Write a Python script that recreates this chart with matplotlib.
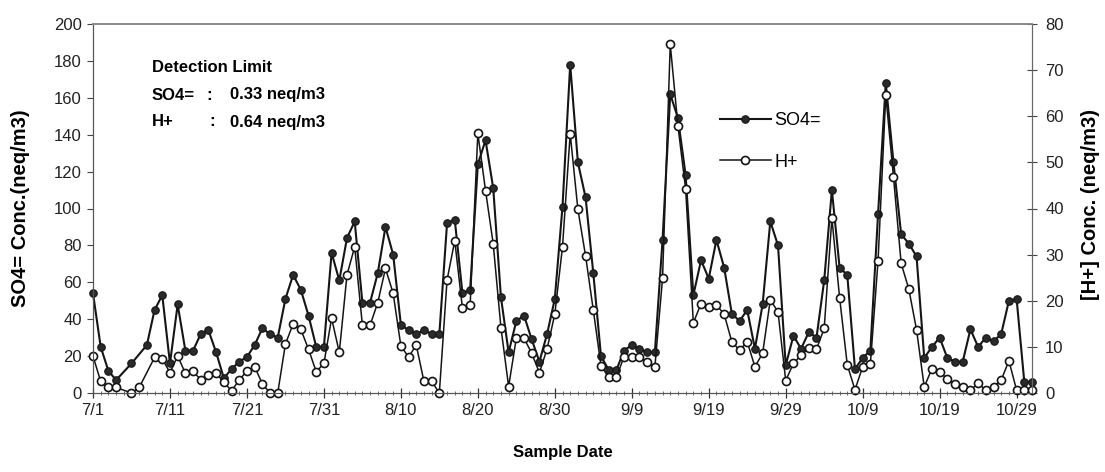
import matplotlib
matplotlib.use("Agg")
import matplotlib.pyplot as plt
from matplotlib.ticker import MultipleLocator

plt.rcParams['font.family'] = ['Liberation Sans', 'DejaVu Sans']

# ---- data (day offset from 7/1, value) ----
so4_day = [0, 1, 2, 3, 5, 7, 8, 9, 10, 11, 12, 13, 14, 15, 16, 17, 18, 19, 20,
           21, 22, 23, 24, 25, 26, 27, 28, 29, 30, 31, 32, 33, 34, 35, 36, 37, 38, 39, 40,
           41, 42, 43, 44, 45, 46, 47, 48, 49, 50, 51, 52, 53, 54, 55, 56, 57, 58, 59, 60,
           61, 62, 63, 64, 65, 66, 67, 68, 69, 70, 71, 72, 73, 74, 75, 76, 77, 78, 79, 80,
           81, 82, 83, 84, 85, 86, 87, 88, 89, 90, 91, 92, 93, 94, 95, 96, 97, 98, 99, 100,
           101, 102, 103, 104, 105, 106, 107, 108, 109, 110, 111, 112, 113, 114, 115, 116,
           117, 118, 119, 120, 121, 122]
so4_val = [54, 25, 12, 7, 16, 26, 45, 53, 16, 48, 23, 23, 32, 34, 22, 8, 13, 17, 19.5,
           26, 35, 32, 30, 51, 64, 56, 42, 25, 25, 76, 61, 84, 93, 49, 49, 65, 90, 75, 37,
           34, 32, 34, 32, 32, 92, 94, 54, 56, 124, 137, 111, 52, 22, 39, 42, 29, 17, 32, 51,
           101, 178, 125, 106, 65, 20, 12.5, 12.5, 23, 26, 24, 22, 22, 83, 162, 149, 118, 53, 72, 62,
           83, 68, 43, 39, 45, 24, 48, 93, 80, 15, 31, 24, 33, 30, 61, 110, 68, 64, 13, 19,
           23, 97, 168, 125, 86, 81, 74, 19, 25, 30, 19, 17, 17, 34.5, 25, 30,
           28, 32, 50, 51, 6, 6]

hplus_day = [0, 1, 2, 3, 5, 6, 8, 9, 10, 11, 12, 13, 14, 15, 16, 17, 18, 19, 20,
             21, 22, 23, 24, 25, 26, 27, 28, 29, 30, 31, 32, 33, 34, 35, 36, 37, 38, 39, 40,
             41, 42, 43, 44, 45, 46, 47, 48, 49, 50, 51, 52, 53, 54, 55, 56, 57, 58, 59, 60,
             61, 62, 63, 64, 65, 66, 67, 68, 69, 70, 71, 72, 73, 74, 75, 76, 77, 78, 79, 80,
             81, 82, 83, 84, 85, 86, 87, 88, 89, 90, 91, 92, 93, 94, 95, 96, 97, 98, 99, 100,
             101, 102, 103, 104, 105, 106, 107, 108, 109, 110, 111, 112, 113, 114, 115, 116,
             117, 118, 119, 120, 121, 122]
hplus_val = [8, 2.5, 1.2, 1.2, 0, 1.2, 7.7, 7.4, 4.4, 8, 4.3, 4.8, 2.8, 3.9, 4.3, 2.3, 0.5, 2.8, 4.8,
             5.7, 2, 0, 0, 10.6, 15, 13.8, 9.5, 4.6, 6.4, 16.2, 8.8, 25.6, 31.7, 14.7, 14.7, 19.6, 27, 21.6, 10.2,
             7.8, 10.4, 2.5, 2.5, 0, 24.5, 33, 18.4, 19, 56.3, 43.9, 32.3, 14.2, 1.4, 11.9, 11.9, 8.6, 4.4, 9.6, 17.1,
             31.7, 56.2, 39.8, 29.7, 18, 5.9, 3.4, 3.4, 7.9, 7.9, 7.7, 6.8, 5.6, 24.9, 75.6, 57.9, 44.2, 15.2, 19.4, 18.7,
             19.1, 17.1, 11.1, 9.3, 11.1, 5.7, 8.6, 20.2, 17.6, 2.7, 6.4, 8.2, 9.7, 9.5, 14, 37.9, 20.7, 6.1, 0.7, 5.7,
             6.3, 28.7, 64.6, 46.9, 28.1, 22.5, 13.7, 1.3, 5.3, 4.6, 3, 2, 1.2, 0.6, 2.1, 0.6,
             1.4, 2.8, 7, 0.6, 0.6, 0.6]

tick_days = [0, 10, 20, 30, 40, 50, 60, 70, 80, 90, 100, 110, 120]
tick_labels = ['7/1', '7/11', '7/21', '7/31', '8/10', '8/20', '8/30', '9/9',
               '9/19', '9/29', '10/9', '10/19', '10/29']
left_ticks = list(range(0, 201, 20))
right_ticks = list(range(0, 81, 10))

W, H = 1105, 472
fig = plt.figure(figsize=(W / 100, H / 100), dpi=100)
fig.patch.set_facecolor('white')
ax = fig.add_axes([93 / W, 1 - 393 / H, (1032 - 93) / W, (393 - 24) / H])
ax2 = ax.twinx()

l1, = ax.plot(so4_day, so4_val, '-o', color='#151515', lw=1.5, ms=5.4,
              mfc='#2a2a2a', mec='#151515', mew=0.8, label='SO4=', clip_on=False)
l2, = ax2.plot(hplus_day, hplus_val, '-o', color='#151515', lw=1.1, ms=5.8,
               mfc='white', mec='#151515', mew=1.2, label='H+', clip_on=False)

ax.set_xlim(0, 122)
ax.set_ylim(0, 200)
ax2.set_ylim(0, 80)
ax.set_yticks(left_ticks)
ax2.set_yticks(right_ticks)
ax.set_xticks(tick_days)
ax.set_xticklabels(tick_labels)
ax.xaxis.set_minor_locator(MultipleLocator(1))

fs = 12
ax.tick_params(axis='x', which='major', direction='inout', length=7, width=0.9,
               labelsize=fs, pad=4, colors='#333333', labelcolor='#222222')
ax.tick_params(axis='x', which='minor', direction='inout', length=3, width=0.6, colors='#555555')
ax.tick_params(axis='y', direction='out', length=4, width=0.8, labelsize=fs, pad=4,
               colors='#444444', labelcolor='#222222')
ax2.tick_params(axis='y', direction='inout', length=7, width=0.8, labelsize=fs, pad=6,
                colors='#444444', labelcolor='#222222')

for a in (ax, ax2):
    a.spines['top'].set_color('#8a8a8a')
    a.spines['top'].set_linewidth(1.2)
    a.spines['left'].set_color('#555555')
    a.spines['right'].set_color('#666666')
    a.spines['bottom'].set_color('#555555')

ax.set_ylabel('SO4= Conc.(neq/m3)', fontsize=14.5, fontweight='bold')
ax2.set_ylabel('[H+] Conc. (neq/m3)', fontsize=14.5, fontweight='bold', rotation=90)
ax.set_xlabel('Sample Date', fontsize=fs, fontweight='bold')
ax.yaxis.set_label_coords((21 - 93) / 939, 0.5)
ax2.yaxis.set_label_coords((1090 - 93) / 939, 0.51)
ax.xaxis.set_label_coords(0.5, -(452 - 393) / 369)
ax.xaxis.label.set_va('center')
ax.yaxis.label.set_va('center')
ax2.yaxis.label.set_va('center')

# Detection limit annotation
def fx(px):
    return px / W

def fy(py):
    return 1 - py / H

fig.text(fx(152), fy(67), 'Detection Limit', fontsize=fs, fontweight='bold', va='center')
fig.text(fx(152), fy(95), 'SO4=', fontsize=fs, fontweight='bold', va='center')
fig.text(fx(206), fy(95), ':', fontsize=fs, fontweight='bold', va='center')
fig.text(fx(230), fy(95), '0.33 neq/m3', fontsize=fs, fontweight='bold', va='center')
fig.text(fx(152), fy(122), 'H+', fontsize=fs, fontweight='bold', va='center')
fig.text(fx(209), fy(122), ':', fontsize=fs, fontweight='bold', va='center')
fig.text(fx(230), fy(122), '0.64 neq/m3', fontsize=fs, fontweight='bold', va='center')

ax2.legend(handles=[l1, l2], loc='upper left', bbox_to_anchor=(0.66, 0.78),
           frameon=False, fontsize=13, handlelength=2.8, labelspacing=1.35,
           handletextpad=0.2, borderaxespad=0)

fig.savefig('out.png', dpi=100, facecolor='white')
